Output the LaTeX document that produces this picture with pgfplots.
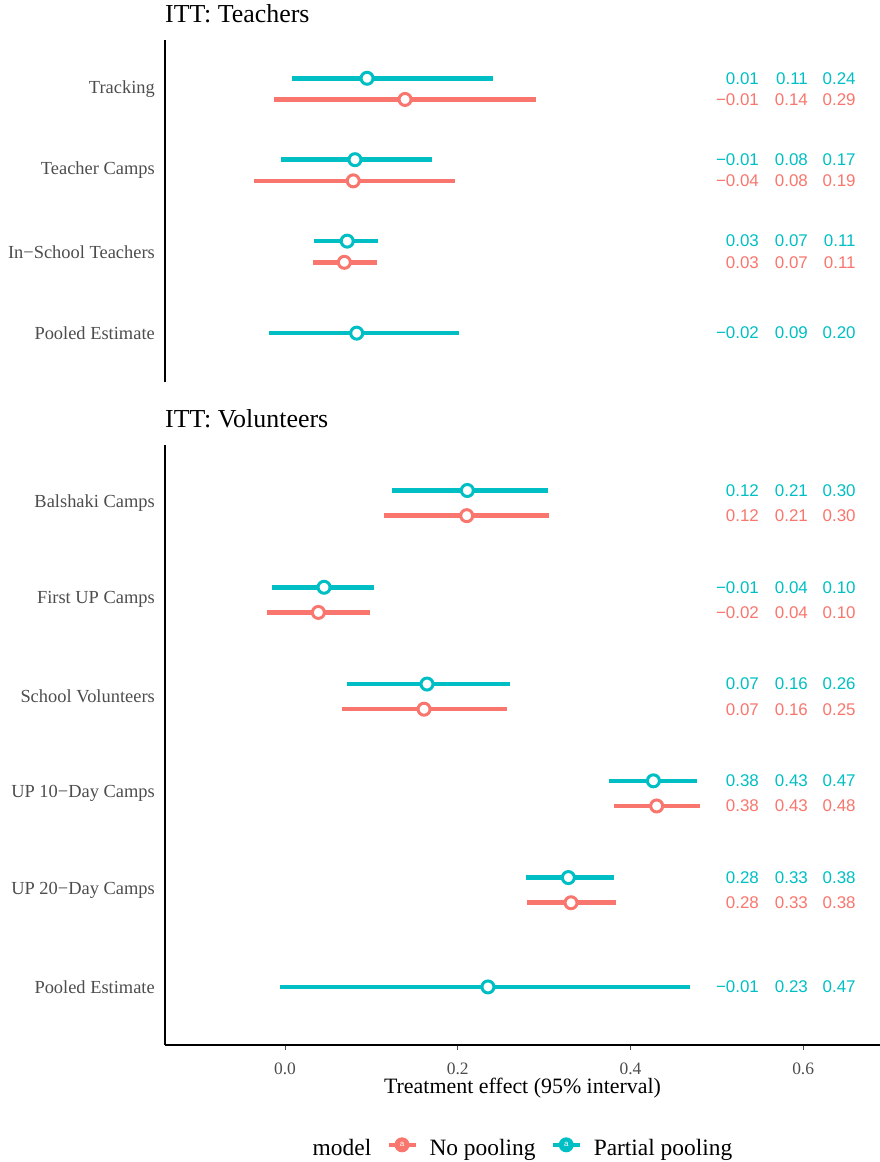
\documentclass[border=0pt]{standalone}
\usepackage{fontspec}
\setmainfont{Liberation Serif}
\newfontfamily\numfont{Liberation Sans}
\usepackage{pgfplots}
\pgfplotsset{compat=1.18}
\usepackage{pgfplotstable}
\definecolor{pp}{HTML}{00BFC4}
\definecolor{np}{HTML}{F8766D}
\definecolor{gray30}{HTML}{4D4D4D}

% interval data: y position, lower, point, upper
\pgfplotstableread{
y lo mid hi
4.13 0.008 0.095 0.241
3.13 -0.005 0.081 0.170
2.13 0.033 0.072 0.108
1.00 -0.019 0.083 0.2015
}\topPP
\pgfplotstableread{
y lo mid hi
3.87 -0.013 0.139 0.2905
2.87 -0.0355 0.079 0.1965
1.87 0.032 0.0687 0.1065
}\topNP
\pgfplotstableread{
y lo mid hi
6.13 0.1235 0.2111 0.3042
5.13 -0.0147 0.0452 0.1031
4.13 0.0722 0.1644 0.2606
3.13 0.3756 0.4266 0.4775
2.13 0.2787 0.3281 0.381
1.00 -0.0058 0.235 0.4686
}\botPP
\pgfplotstableread{
y lo mid hi
5.87 0.115 0.2104 0.3057
4.87 -0.0208 0.0386 0.0984
3.87 0.066 0.161 0.2567
2.87 0.381 0.4304 0.481
1.87 0.2806 0.3312 0.383
}\botNP
% printed summaries
\pgfplotstableread{
y a b c
4.13 0.01 0.11 0.24
3.13 −0.01 0.08 0.17
2.13 0.03 0.07 0.11
1.00 −0.02 0.09 0.20
}\topPPtxt
\pgfplotstableread{
y a b c
3.87 −0.01 0.14 0.29
2.87 −0.04 0.08 0.19
1.87 0.03 0.07 0.11
}\topNPtxt
\pgfplotstableread{
y a b c
6.13 0.12 0.21 0.30
5.13 −0.01 0.04 0.10
4.13 0.07 0.16 0.26
3.13 0.38 0.43 0.47
2.13 0.28 0.33 0.38
1.00 −0.01 0.23 0.47
}\botPPtxt
\pgfplotstableread{
y a b c
5.87 0.12 0.21 0.30
4.87 −0.02 0.04 0.10
3.87 0.07 0.16 0.25
2.87 0.38 0.43 0.48
1.87 0.28 0.33 0.38
}\botNPtxt

\pgfplotsset{
  common/.style={
    scale only axis, width=715bp, xmin=-0.139, xmax=0.689,
    anchor=north west, clip=false,
    axis line style={line width=1.3bp, black},
    ytick style={draw=none},
    yticklabel style={font=\fontsize{18.5}{20}\selectfont, text=gray30, inner sep=0pt, xshift=-5bp},
    major tick length=5bp, tick align=outside,
    title style={at={(axis description cs:0,1)}, anchor=base west, inner sep=0pt, yshift=11.3bp, font=\fontsize{26}{28}\selectfont},
  },
  ivl/.style={#1, forget plot, only marks, mark=none,
    error bars/.cd, x dir=both, x explicit, error mark=none,
    error bar style={line width=4.5bp, #1}},
  pt/.style={#1, forget plot, only marks, mark=*, mark size=6bp,
    mark options={fill=white, draw=#1, line width=3bp}},
  num/.style={forget plot, only marks, mark=none, nodes near coords,
    point meta=explicit symbolic,
    every node near coord/.append style={anchor=east, inner sep=0pt, text=#1,
      font=\numfont\fontsize{17}{17}\selectfont}},
  keyimg/.style={legend image code/.code={
    \draw[#1, line width=4.5bp] (0bp,3bp) -- (27bp,3bp);
    \fill[#1, draw=none] (13.5bp,3bp) circle (7.5bp);
    \node[text=white, draw=none, font=\numfont\fontsize{8}{8}\selectfont, inner sep=0pt] at (13.5bp,3bp) {a};
    \path[draw=none, fill=none] (0bp,3bp) -- (41bp,3bp);
  }},
}

\newcommand{\panel}[4]{%
  \addplot[ivl=pp] table[x=mid, y=y, x error plus expr=\thisrow{hi}-\thisrow{mid}, x error minus expr=\thisrow{mid}-\thisrow{lo}] {#1};
  \addplot[ivl=np] table[x=mid, y=y, x error plus expr=\thisrow{hi}-\thisrow{mid}, x error minus expr=\thisrow{mid}-\thisrow{lo}] {#2};
  \addplot[pt=pp] table[x=mid, y=y] {#1};
  \addplot[pt=np] table[x=mid, y=y] {#2};
  \addplot[num=pp] table[x expr=0.549, y=y, meta=a] {#3};
  \addplot[num=pp] table[x expr=0.6057, y=y, meta=b] {#3};
  \addplot[num=pp] table[x expr=0.661, y=y, meta=c] {#3};
  \addplot[num=np] table[x expr=0.549, y=y, meta=a] {#4};
  \addplot[num=np] table[x expr=0.6057, y=y, meta=b] {#4};
  \addplot[num=np] table[x expr=0.661, y=y, meta=c] {#4};
}

\begin{document}
\begin{tikzpicture}
\useasboundingbox (0,0) rectangle (880bp,-1162bp);
\begin{axis}[common,
  at={(165bp,-40bp)}, height=342bp,
  ymin=0.4, ymax=4.6,
  axis x line=none, axis y line*=left,
  ytick={1,2,3,4},
  yticklabels={Pooled Estimate, In−School Teachers, Teacher Camps, Tracking},
  title={ITT: Teachers},
]
\panel{\topPP}{\topNP}{\topPPtxt}{\topNPtxt}
\end{axis}

\begin{axis}[common,
  at={(165bp,-445bp)}, height=600bp,
  ymin=0.4, ymax=6.6,
  axis x line*=bottom, axis y line*=left,
  ytick={1,2,3,4,5,6},
  yticklabels={Pooled Estimate, UP 20−Day Camps, UP 10−Day Camps, School Volunteers, First UP Camps, Balshaki Camps},
  xtick={0,0.2,0.4,0.6},
  xticklabels={0.0,0.2,0.4,0.6},
  xtick style={gray30, line width=1bp},
  xticklabel style={font=\fontsize{17.5}{18}\selectfont, text=gray30, inner sep=0pt, yshift=-12.5bp},
  xlabel={Treatment effect (95\% interval)},
  xlabel style={at={(axis description cs:0.5,0)}, anchor=base, inner sep=0pt, yshift=-48.5bp, font=\fontsize{22}{24}\selectfont},
  title={ITT: Volunteers},
  legend columns=-1,
  legend style={at={(axis description cs:0.5,-0.17)}, anchor=center, draw=none, fill=none,
    inner sep=0pt, font=\fontsize{23.5}{25}\selectfont,
    nodes={inner sep=0pt},
    /tikz/every even column/.append style={column sep=15bp}},
]
\panel{\botPP}{\botNP}{\botPPtxt}{\botNPtxt}
\addlegendimage{empty legend}\addlegendentry{model}
\addlegendimage{keyimg=np}\addlegendentry{No pooling}
\addlegendimage{keyimg=pp}\addlegendentry{Partial pooling}
\end{axis}
\end{tikzpicture}
\end{document}
